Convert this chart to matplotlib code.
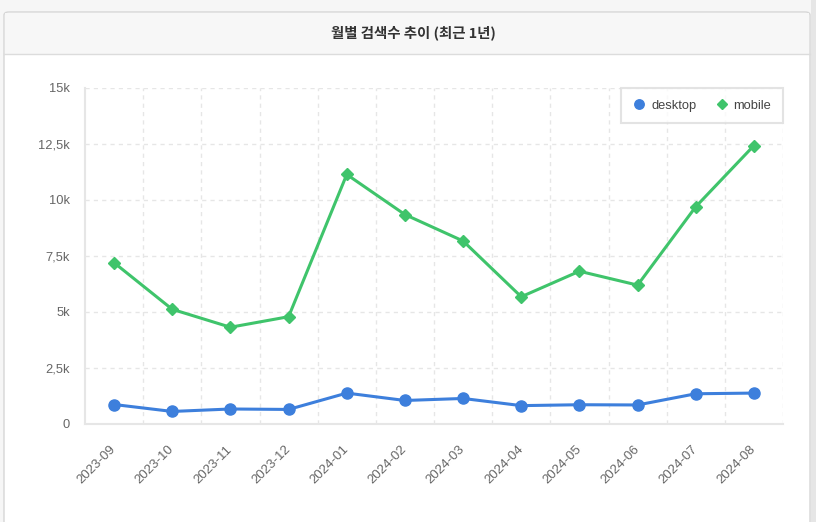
import matplotlib
matplotlib.use('Agg')
import matplotlib.pyplot as plt
from matplotlib.patches import Rectangle, FancyBboxPatch
from matplotlib.lines import Line2D
from matplotlib.ticker import FuncFormatter, MultipleLocator

plt.rcParams['font.family'] = ['Liberation Sans', 'Noto Sans CJK KR', 'DejaVu Sans']

months = ['2023-09', '2023-10', '2023-11', '2023-12', '2024-01', '2024-02',
          '2024-03', '2024-04', '2024-05', '2024-06', '2024-07', '2024-08']
desktop = [870, 560, 670, 650, 1380, 1050, 1140, 820, 860, 850, 1350, 1380]
mobile = [7200, 5120, 4320, 4790, 11140, 9350, 8170, 5680, 6820, 6200, 9700, 12430]
title = '월별 검색수 추이 (최근 1년)'

W, H = 816, 522
fig = plt.figure(figsize=(W / 100, H / 100), dpi=100)
fig.patch.set_facecolor('#f6f6f6')


def fx(px):
    return px / W


def fy(py):
    return 1 - py / H


# card body + header
card = FancyBboxPatch((fx(4), fy(540)), fx(806), fy(12) - fy(540),
                      boxstyle='round,pad=0,rounding_size=0.006',
                      transform=fig.transFigure, facecolor='white',
                      edgecolor='#d6d6d6', linewidth=1.0, zorder=0)
fig.patches.append(card)
header = Rectangle((fx(5), fy(54)), fx(804), fy(13) - fy(54),
                   transform=fig.transFigure, facecolor='#f7f7f7',
                   edgecolor='none', zorder=1)
fig.patches.append(header)
fig.lines.append(Line2D([fx(4), fx(810)], [fy(54), fy(54)],
                        transform=fig.transFigure, color='#dcdcdc', linewidth=1.0))
fig.patches.append(Rectangle((fx(811), 0), fx(5), 1, transform=fig.transFigure,
                             facecolor='#e6e6e6', edgecolor='none'))
fig.text(fx(413), fy(33), title, ha='center', va='center', fontsize=10.4,
         fontweight='bold', color='#333333', family=['Noto Sans CJK KR'])

ax = fig.add_axes([fx(85), fy(424), fx(783) - fx(85), fy(88) - fy(424)])
ax.set_zorder(10)
ax.set_facecolor('white')
x = list(range(len(months)))

ax.plot(x, desktop, color='#3d7fdc', linewidth=2.2, marker='o', markersize=8,
        label='desktop', zorder=3)
ax.plot(x, mobile, color='#3fc46b', linewidth=2.2, marker='D', markersize=6.5,
        label='mobile', zorder=3)

ax.set_xlim(-0.5, len(months) - 0.5)
ax.set_ylim(0, 15000)
ax.yaxis.set_major_locator(MultipleLocator(2500))


def kfmt(v, pos):
    if v == 0:
        return '0'
    s = f'{v / 1000:g}'.replace('.', ',')
    return s + 'k'


ax.yaxis.set_major_formatter(FuncFormatter(kfmt))
ax.set_xticks(x)
ax.set_xticklabels(months, rotation=45, ha='right', va='center',
                   rotation_mode='anchor')
ax.set_xticks([i + 0.5 for i in x], minor=True)
ax.tick_params(axis='x', which='both', length=0, pad=17, labelsize=9.5,
               labelcolor='#666666')
ax.tick_params(axis='y', length=0, pad=11, labelsize=9.3, labelcolor='#666666')

ax.grid(True, axis='y', which='major', color='#e6e6e6', linestyle=(0, (3, 3)),
        linewidth=1.0)
ax.grid(True, axis='x', which='minor', color='#e6e6e6', linestyle=(0, (3, 3)),
        linewidth=1.0)
ax.grid(False, axis='x', which='major')
ax.set_axisbelow(True)

for side in ['top', 'right']:
    ax.spines[side].set_visible(False)
for side in ['left', 'bottom']:
    ax.spines[side].set_color('#e6e6e6')
    ax.spines[side].set_linewidth(1.5)

leg = ax.legend(loc='upper right', ncol=2, frameon=True, fancybox=False,
                fontsize=9.3, borderaxespad=0.0, handlelength=1.0,
                handletextpad=0.4, columnspacing=1.5, borderpad=0.9,
                markerscale=0.85)
leg.get_frame().set_edgecolor('#dddddd')
leg.get_frame().set_linewidth(1.5)
for h in leg.legend_handles:
    h.set_linestyle('none')
for t in leg.get_texts():
    t.set_color('#444444')

fig.savefig('out.png', dpi=100, facecolor=fig.get_facecolor())
